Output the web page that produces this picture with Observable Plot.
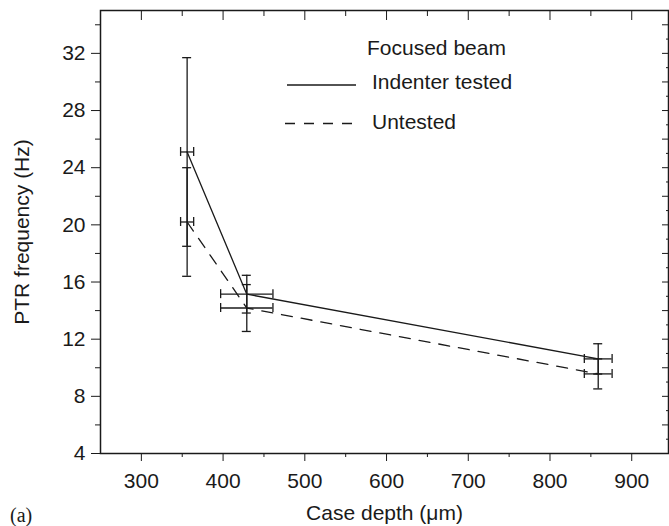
<!DOCTYPE html>
<html><head><meta charset="utf-8">
<script src="https://cdn.jsdelivr.net/npm/d3@7"></script>
<script src="https://cdn.jsdelivr.net/npm/@observablehq/plot@0.6"></script>
<style>
html,body{margin:0;padding:0;background:#fff;}
#wrap{position:relative;width:669px;height:526px;font-family:"Liberation Sans",Arial,sans-serif;color:#1a1a1a;}
#wrap svg{display:block;}
.leg{position:absolute;font-size:21px;white-space:nowrap;line-height:1;}
#legsvg{position:absolute;left:0;top:0;pointer-events:none;}
#panel{position:absolute;left:10px;top:505px;font-family:"Liberation Serif","Times New Roman",serif;font-size:20px;line-height:1;}
</style></head><body><div id="wrap"></div>
<script>
// ---- data ----
const seriesNames = ["Indenter tested", "Untested"];
const depth = [356, 429, 859];          // case depth (µm)
const depthErr = [8, 32, 17];           // ± horizontal error
const indenter = [25.1, 15.15, 10.62];  // PTR frequency (Hz)
const indenterErr = [6.6, 1.32, 1.06];
const untested = [20.2, 14.18, 9.57];
const untestedErr = [3.8, 1.64, 1.05];
const xMajor = [300, 400, 500, 600, 700, 800, 900];
const xMinor = [350, 450, 550, 650, 750, 850];
const yMajor = [4, 8, 12, 16, 20, 24, 28, 32];
const yMinor = [6, 10, 14, 18, 22, 26, 30, 34];
const yRightMajor = [4, 6, 8, 10, 12, 14, 16, 18, 20, 22, 24, 26, 28, 30, 32, 34];
const yRightMinor = [5, 7, 9, 11, 13, 15, 17, 19, 21, 23, 25, 27, 29, 31, 33, 35];

const rows = [];
[[indenter, indenterErr], [untested, untestedErr]].forEach(([vals, errs], s) => {
  depth.forEach((d, i) => rows.push({series: seriesNames[s], x: d, xe: depthErr[i], y: vals[i], ye: errs[i]}));
});
const rowsA = rows.filter(d => d.series === seriesNames[0]);
const rowsB = rows.filter(d => d.series === seriesNames[1]);

const ink = "#1a1a1a";
const none = () => "";

const chart = Plot.plot({
  width: 669, height: 526,
  marginLeft: 100, marginRight: 1, marginTop: 10, marginBottom: 73,
  style: {fontFamily: '"Liberation Sans", Arial, sans-serif', fontSize: "21px", color: ink, background: "#fff"},
  x: {domain: [250, 945]},
  y: {domain: [4, 35]},
  marks: [
    Plot.frame({stroke: ink, strokeWidth: 1.5}),
    // bottom axis
    Plot.axisX({anchor: "bottom", ticks: xMajor, tickSize: 8, tickPadding: 12, tickFormat: d => String(d),
      label: "Case depth (μm)", labelAnchor: "center", labelArrow: "none", labelOffset: 66, stroke: ink, fill: ink}),
    Plot.axisX({anchor: "bottom", ticks: xMinor, tickSize: 4, tickFormat: none, label: null, stroke: ink}),
    // top axis (inward)
    Plot.axisX({anchor: "top", ticks: xMajor, tickSize: -9, tickFormat: none, label: null, stroke: ink}),
    Plot.axisX({anchor: "top", ticks: xMinor, tickSize: -5, tickFormat: none, label: null, stroke: ink}),
    // left axis
    Plot.axisY({anchor: "left", ticks: yMajor, tickSize: 9, tickPadding: 6, tickFormat: d => String(d),
      label: "PTR frequency (Hz)", labelAnchor: "center", labelArrow: "none", labelOffset: 86, stroke: ink, fill: ink}),
    Plot.axisY({anchor: "left", ticks: yMinor, tickSize: 5, tickFormat: none, label: null, stroke: ink}),
    // right axis (inward)
    Plot.axisY({anchor: "right", ticks: yRightMajor, tickSize: -7, tickFormat: none, label: null, stroke: ink}),
    Plot.axisY({anchor: "right", ticks: yRightMinor, tickSize: -3, tickFormat: none, label: null, stroke: ink}),
    // lines
    Plot.line(rowsA, {x: "x", y: "y", stroke: ink, strokeWidth: 1.3}),
    Plot.line(rowsB, {x: "x", y: "y", stroke: ink, strokeWidth: 1.3, strokeDasharray: "11,9"}),
    // vertical error bars + caps
    Plot.ruleX(rows, {x: "x", y1: d => d.y - d.ye, y2: d => d.y + d.ye, stroke: ink, strokeWidth: 1.3}),
    Plot.ruleY(rows, {y: d => d.y - d.ye, x1: "x", x2: "x", insetLeft: -4.5, insetRight: -4.5, stroke: ink, strokeWidth: 1.3}),
    Plot.ruleY(rows, {y: d => d.y + d.ye, x1: "x", x2: "x", insetLeft: -4.5, insetRight: -4.5, stroke: ink, strokeWidth: 1.3}),
    // horizontal error bars + caps
    Plot.ruleY(rows, {y: "y", x1: d => d.x - d.xe, x2: d => d.x + d.xe, stroke: ink, strokeWidth: 1.3}),
    Plot.ruleX(rows, {x: d => d.x - d.xe, y1: "y", y2: "y", insetTop: -4.5, insetBottom: -4.5, stroke: ink, strokeWidth: 1.3}),
    Plot.ruleX(rows, {x: d => d.x + d.xe, y1: "y", y2: "y", insetTop: -4.5, insetBottom: -4.5, stroke: ink, strokeWidth: 1.3})
  ]
});

const wrap = document.getElementById("wrap");
wrap.appendChild(chart);

// legend overlay inside the plot area
const legTitle = document.createElement("div");
legTitle.className = "leg"; legTitle.textContent = "Focused beam";
legTitle.style.left = "367px"; legTitle.style.top = "37px";
wrap.appendChild(legTitle);
const leg1 = document.createElement("div");
leg1.className = "leg"; leg1.textContent = seriesNames[0];
leg1.style.left = "372px"; leg1.style.top = "71px";
wrap.appendChild(leg1);
const leg2 = document.createElement("div");
leg2.className = "leg"; leg2.textContent = seriesNames[1];
leg2.style.left = "372px"; leg2.style.top = "111px";
wrap.appendChild(leg2);

const ns = "http://www.w3.org/2000/svg";
const ls = document.createElementNS(ns, "svg");
ls.setAttribute("id", "legsvg"); ls.setAttribute("width", 669); ls.setAttribute("height", 526);
const l1 = document.createElementNS(ns, "line");
l1.setAttribute("x1", 287); l1.setAttribute("x2", 356); l1.setAttribute("y1", 85); l1.setAttribute("y2", 85);
l1.setAttribute("stroke", ink); l1.setAttribute("stroke-width", 1.3);
const l2 = document.createElementNS(ns, "line");
l2.setAttribute("x1", 285); l2.setAttribute("x2", 354); l2.setAttribute("y1", 123.5); l2.setAttribute("y2", 123.5);
l2.setAttribute("stroke", ink); l2.setAttribute("stroke-width", 1.3); l2.setAttribute("stroke-dasharray", "10,9");
ls.appendChild(l1); ls.appendChild(l2);
wrap.appendChild(ls);

const panel = document.createElement("div");
panel.id = "panel"; panel.textContent = "(a)";
wrap.appendChild(panel);
</script>
</body></html>
